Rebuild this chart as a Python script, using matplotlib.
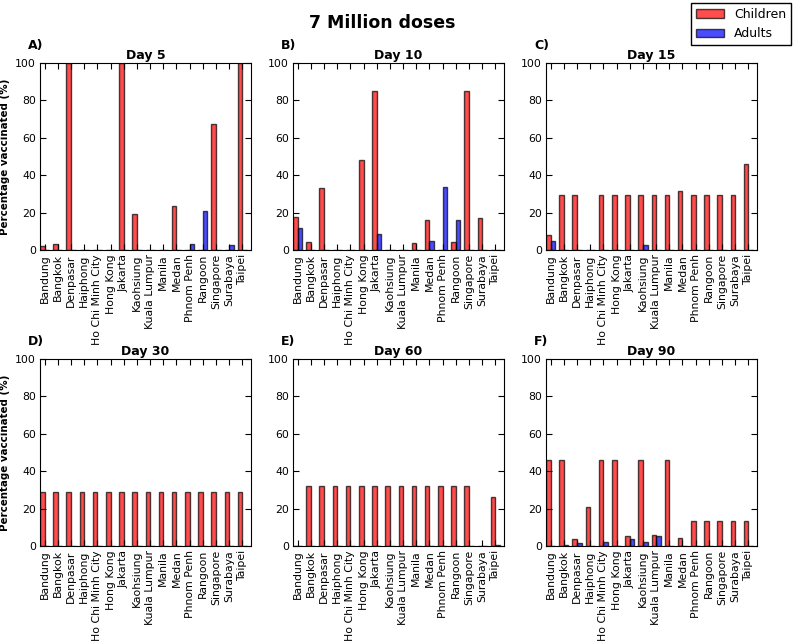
import numpy as np
import matplotlib
matplotlib.use('Agg')
import matplotlib.pyplot as plt

cities = ['Bandung', 'Bangkok', 'Denpasar', 'Haiphong', 'Ho Chi Minh City',
          'Hong Kong', 'Jakarta', 'Kaohsiung', 'Kuala Lumpur', 'Manila',
          'Medan', 'Phnom Penh', 'Rangoon', 'Singapore', 'Surabaya', 'Taipei']

days = [5, 10, 15, 30, 60, 90]
panel_labels = ['A)', 'B)', 'C)', 'D)', 'E)', 'F)']

children_d5 = [2, 3, 100, 0, 0, 0, 100, 19, 0, 0, 23.5, 0, 0, 67.5, 0, 100]
adults_d5 = [0, 0, 0, 0, 0, 0, 0, 0, 0, 0, 0, 3, 21, 0, 2.5, 0]

children_d10 = [17.5, 4.5, 33, 0, 0, 48, 85, 0, 0, 3.5, 16, 0, 4.5, 85, 17, 0]
adults_d10 = [12, 0, 0, 0, 0, 0, 8.5, 0, 0, 0, 5, 33.5, 16, 0, 0, 0]

children_d15 = [8, 29.5, 29.5, 0, 29.5, 29.5, 29.5, 29.5, 29.5, 29.5, 31.5,
                29.5, 29.5, 29.5, 29.5, 46]
adults_d15 = [5, 0, 0, 0, 0, 0, 0, 2.5, 0, 0, 0, 0, 0, 0, 0, 0]

children_d30 = [29] * 16
adults_d30 = [0] * 16

children_d60 = [0, 32, 32, 32, 32, 32, 32, 32, 32, 32, 32, 32, 32, 32, 0, 26]
adults_d60 = [0, 0, 0, 0, 0, 0, 0, 0, 0, 0, 0, 0, 0, 0, 0, 0.5]

children_d90 = [46, 46, 4, 21, 46, 46, 5.5, 46, 6, 46, 4.5, 13.5, 13.5, 13.5,
                13.5, 13.5]
adults_d90 = [0, 0.3, 1.5, 0, 2, 0, 4, 2, 5.5, 0, 0, 0, 0, 0, 0, 0]

children = [children_d5, children_d10, children_d15,
            children_d30, children_d60, children_d90]
adults = [adults_d5, adults_d10, adults_d15, adults_d30, adults_d60, adults_d90]

W, H = 796, 641
fig = plt.figure(figsize=(W / 100, H / 100), dpi=100)

lefts = [40, 293, 546]
tops = [63, 359]
aw, ah = 211, 187

width = 0.35
x = np.arange(len(cities))

for k in range(6):
    r, c = divmod(k, 3)
    ax = fig.add_axes([lefts[c] / W, 1 - (tops[r] + ah) / H, aw / W, ah / H])
    b1 = ax.bar(x, children[k], width, align='edge', color='r', alpha=0.7,
                edgecolor='k', linewidth=1, label='Children')
    b2 = ax.bar(x + width, adults[k], width, align='edge', color='b', alpha=0.7,
                edgecolor='k', linewidth=1, label='Adults')
    ax.set_xlim(0, 16)
    ax.set_ylim(0, 100)
    ax.set_xticks(x + width)
    ax.set_xticklabels(cities, rotation=90, fontsize=7.8)
    ax.set_yticks([0, 20, 40, 60, 80, 100])
    ax.tick_params(axis='y', labelsize=7.8)
    ax.tick_params(direction='in', top=True, right=True, length=4, pad=3)
    ax.set_title('Day %d' % days[k], fontsize=9, fontweight='bold', pad=3)
    if c == 0:
        ax.set_ylabel('Percentage vaccinated (%)', fontsize=7.4, fontweight='bold')
        ax.yaxis.set_label_coords(-30 / aw, 0.5)
    fig.text((lefts[c] - 12) / W, 1 - (tops[r] - 17) / H, panel_labels[k],
             fontsize=9, fontweight='bold', va='center', ha='left')
    if k == 0:
        handles = [b1, b2]

fig.text(382 / W, 1 - 23 / H, '7 Million doses', fontsize=12.5,
         fontweight='bold', ha='center', va='center')
fig.legend(handles, ['Children', 'Adults'], loc='upper right',
           bbox_to_anchor=(791 / W, 1 - 3 / H), fontsize=9, fancybox=False,
           edgecolor='k', framealpha=1, handlelength=2.2, borderaxespad=0)

fig.savefig('out.png', dpi=100)
